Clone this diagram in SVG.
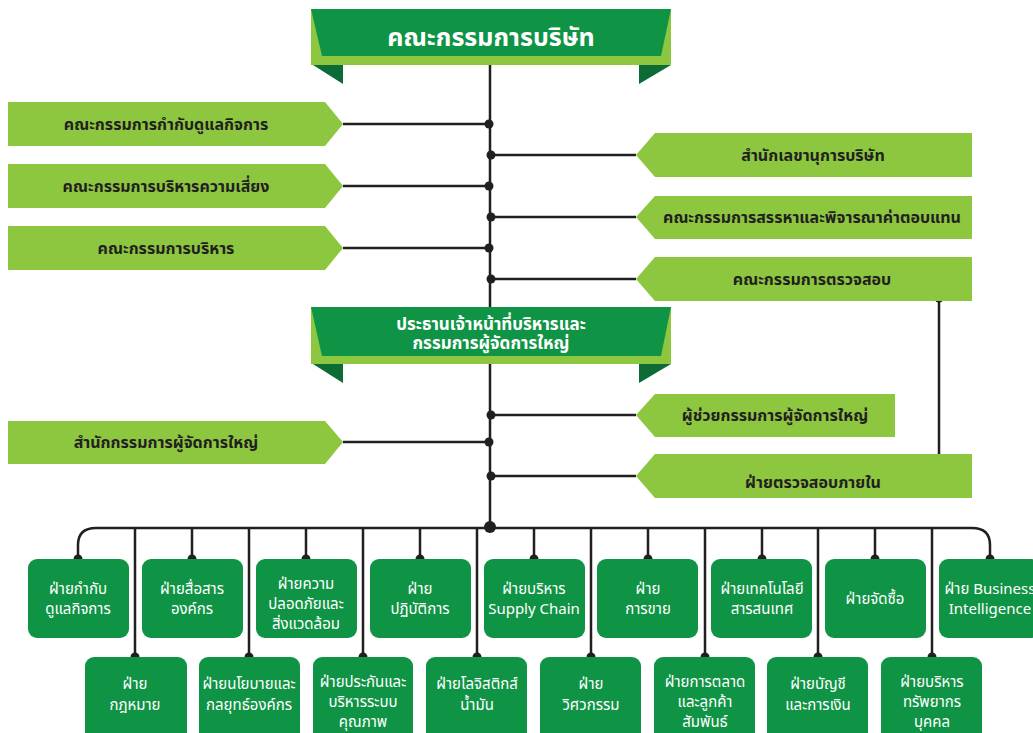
<svg xmlns="http://www.w3.org/2000/svg" width="1033" height="733" viewBox="0 0 1033 733">
<style>
.lg{fill:#8dc63f}
.dg{fill:#0f9445}
.fold{fill:#0d6b36}
.ln{stroke:#231f20;stroke-width:2.5;fill:none}
.dot{fill:#231f20}
.t{font-family:"Noto Sans Thai","Noto Sans","DejaVu Sans",sans-serif;text-anchor:middle}
.hdr{fill:#ffffff;font-weight:bold;font-size:25px}
.hdr2{fill:#ffffff;font-weight:bold;font-size:17px}
.lab{fill:#231f20;font-weight:bold;font-size:16px}
.bx{fill:#ffffff;font-size:15px}
</style>
<rect width="1033" height="733" fill="#ffffff"/>
<g id="connectors">
<line class="ln" x1="490" y1="65" x2="490" y2="527"/>
<line class="ln" x1="343" y1="124" x2="490" y2="124"/>
<line class="ln" x1="343" y1="186" x2="490" y2="186"/>
<line class="ln" x1="343" y1="248" x2="490" y2="248"/>
<line class="ln" x1="343" y1="442" x2="490" y2="442"/>
<line class="ln" x1="490" y1="155" x2="636" y2="155"/>
<line class="ln" x1="490" y1="217" x2="636" y2="217"/>
<line class="ln" x1="490" y1="279" x2="636" y2="279"/>
<line class="ln" x1="490" y1="415" x2="636" y2="415"/>
<line class="ln" x1="490" y1="476" x2="636" y2="476"/>
<line class="ln" x1="939" y1="298" x2="939" y2="459"/>
<path class="ln" d="M78 559 V545 Q78 528 96 528 H972 Q990 528 990 545 V559"/>
<path class="ln" d="M192 528V559 M306 528V559 M420 528V559 M534 528V559 M648 528V559 M762 528V559 M875 528V559"/>
<path class="ln" d="M135 528V657 M249 528V657 M363 528V657 M477 528V657 M591 528V657 M705 528V657 M818 528V657 M932 528V657"/>
<g class="dot">
<circle cx="489" cy="124" r="4.5"/><circle cx="489" cy="186" r="4.5"/><circle cx="489" cy="248" r="4.5"/><circle cx="489" cy="442" r="4.5"/>
<circle cx="491" cy="155" r="4.5"/><circle cx="491" cy="217" r="4.5"/><circle cx="491" cy="279" r="4.5"/><circle cx="491" cy="415" r="4.5"/><circle cx="491" cy="476" r="4.5"/>
<circle cx="490" cy="527" r="6"/>
<circle cx="939" cy="298" r="4.5"/><circle cx="939" cy="459" r="4.5"/>
<circle cx="78" cy="559" r="4.5"/><circle cx="192" cy="559" r="4.5"/><circle cx="306" cy="559" r="4.5"/><circle cx="420" cy="559" r="4.5"/><circle cx="534" cy="559" r="4.5"/><circle cx="648" cy="559" r="4.5"/><circle cx="762" cy="559" r="4.5"/><circle cx="875" cy="559" r="4.5"/><circle cx="990" cy="559" r="4.5"/>
<circle cx="135" cy="657" r="4.5"/><circle cx="249" cy="657" r="4.5"/><circle cx="363" cy="657" r="4.5"/><circle cx="477" cy="657" r="4.5"/><circle cx="591" cy="657" r="4.5"/><circle cx="705" cy="657" r="4.5"/><circle cx="818" cy="657" r="4.5"/><circle cx="932" cy="657" r="4.5"/>
</g>
</g>
<g id="board">
<polygon class="fold" points="313,65 343,65 343,84"/>
<polygon class="fold" points="639,65 671,65 639,84"/>
<rect class="lg" x="311" y="9" width="360" height="56"/>
<polygon class="dg" points="311,9 671,9 661,56 322,56"/>
<text class="t hdr" x="491" y="46">คณะกรรมการบริษัท</text>
</g>
<g id="ceo">
<polygon class="fold" points="313,364 343,364 343,383"/>
<polygon class="fold" points="639,364 671,364 639,383"/>
<rect class="lg" x="311" y="307" width="360" height="57"/>
<polygon class="dg" points="311,307 671,307 661,356 322,356"/>
<text class="t hdr2" x="491" y="330">ประธานเจ้าหน้าที่บริหารและ</text>
<text class="t hdr2" x="491" y="349">กรรมการผู้จัดการใหญ่</text>
</g>
<g id="l1"><polygon class="lg" points="8,102 325,102 343,124 325,146 8,146"/><text class="t lab" x="166" y="130">คณะกรรมการกำกับดูแลกิจการ</text></g>
<g id="l2"><polygon class="lg" points="8,164 325,164 343,186 325,208 8,208"/><text class="t lab" x="166" y="192">คณะกรรมการบริหารความเสี่ยง</text></g>
<g id="l3"><polygon class="lg" points="8,226 325,226 343,248 325,270 8,270"/><text class="t lab" x="166" y="254">คณะกรรมการบริหาร</text></g>
<g id="l4"><polygon class="lg" points="8,421 325,421 343,442 325,464 8,464"/><text class="t lab" x="166" y="448">สำนักกรรมการผู้จัดการใหญ่</text></g>
<g id="r1"><polygon class="lg" points="636,155 655,133 972,133 972,177 655,177"/><text class="t lab" x="813" y="161">สำนักเลขานุการบริษัท</text></g>
<g id="r2"><polygon class="lg" points="636,217 655,196 972,196 972,239 655,239"/><text class="t lab" x="812" y="223">คณะกรรมการสรรหาและพิจารณาค่าตอบแทน</text></g>
<g id="r3"><polygon class="lg" points="636,279 655,257 972,257 972,301 655,301"/><text class="t lab" x="812" y="285">คณะกรรมการตรวจสอบ</text></g>
<g id="r4"><polygon class="lg" points="636,415 655,394 895,394 895,437 655,437"/><text class="t lab" x="775" y="421">ผู้ช่วยกรรมการผู้จัดการใหญ่</text></g>
<g id="r5"><polygon class="lg" points="636,476 655,454 972,454 972,498 655,498"/><text class="t lab" x="813" y="488">ฝ่ายตรวจสอบภายใน</text></g>
<g id="d1"><rect class="dg" x="28" y="559" width="101" height="79" rx="9"/><text class="t bx" x="78" y="594">ฝ่ายกำกับ</text><text class="t bx" x="78" y="614">ดูแลกิจการ</text></g>
<g id="d2"><rect class="dg" x="142" y="559" width="101" height="79" rx="9"/><text class="t bx" x="192" y="594">ฝ่ายสื่อสาร</text><text class="t bx" x="192" y="614">องค์กร</text></g>
<g id="d3"><rect class="dg" x="256" y="559" width="101" height="79" rx="9"/><text class="t bx" x="306" y="589">ฝ่ายความ</text><text class="t bx" x="306" y="609">ปลอดภัยและ</text><text class="t bx" x="306" y="629">สิ่งแวดล้อม</text></g>
<g id="d4"><rect class="dg" x="370" y="559" width="101" height="79" rx="9"/><text class="t bx" x="420" y="594">ฝ่าย</text><text class="t bx" x="420" y="614">ปฏิบัติการ</text></g>
<g id="d5"><rect class="dg" x="484" y="559" width="101" height="79" rx="9"/><text class="t bx" x="534" y="594">ฝ่ายบริหาร</text><text class="t bx" x="534" y="614">Supply Chain</text></g>
<g id="d6"><rect class="dg" x="597" y="559" width="101" height="79" rx="9"/><text class="t bx" x="648" y="594">ฝ่าย</text><text class="t bx" x="648" y="614">การขาย</text></g>
<g id="d7"><rect class="dg" x="711" y="559" width="101" height="79" rx="9"/><text class="t bx" x="762" y="594">ฝ่ายเทคโนโลยี</text><text class="t bx" x="762" y="614">สารสนเทศ</text></g>
<g id="d8"><rect class="dg" x="825" y="559" width="101" height="79" rx="9"/><text class="t bx" x="875" y="604">ฝ่ายจัดซื้อ</text></g>
<g id="d9"><rect class="dg" x="939" y="559" width="101" height="79" rx="9"/><text class="t bx" x="990" y="594">ฝ่าย Business</text><text class="t bx" x="990" y="614">Intelligence</text></g>
<g id="e1"><rect class="dg" x="85" y="657" width="102" height="85" rx="9"/><text class="t bx" x="135" y="689">ฝ่าย</text><text class="t bx" x="135" y="710">กฎหมาย</text></g>
<g id="e2"><rect class="dg" x="199" y="657" width="101" height="85" rx="9"/><text class="t bx" x="249" y="689">ฝ่ายนโยบายและ</text><text class="t bx" x="249" y="710">กลยุทธ์องค์กร</text></g>
<g id="e3"><rect class="dg" x="313" y="657" width="100" height="85" rx="9"/><text class="t bx" x="363" y="687">ฝ่ายประกันและ</text><text class="t bx" x="363" y="707">บริหารระบบ</text><text class="t bx" x="363" y="727">คุณภาพ</text></g>
<g id="e4"><rect class="dg" x="426" y="657" width="101" height="85" rx="9"/><text class="t bx" x="477" y="689">ฝ่ายโลจิสติกส์</text><text class="t bx" x="477" y="710">น้ำมัน</text></g>
<g id="e5"><rect class="dg" x="540" y="657" width="101" height="85" rx="9"/><text class="t bx" x="591" y="689">ฝ่าย</text><text class="t bx" x="591" y="710">วิศวกรรม</text></g>
<g id="e6"><rect class="dg" x="654" y="657" width="101" height="85" rx="9"/><text class="t bx" x="705" y="687">ฝ่ายการตลาด</text><text class="t bx" x="705" y="707">และลูกค้า</text><text class="t bx" x="705" y="727">สัมพันธ์</text></g>
<g id="e7"><rect class="dg" x="767" y="657" width="101" height="85" rx="9"/><text class="t bx" x="818" y="689">ฝ่ายบัญชี</text><text class="t bx" x="818" y="710">และการเงิน</text></g>
<g id="e8"><rect class="dg" x="881" y="657" width="101" height="85" rx="9"/><text class="t bx" x="932" y="687">ฝ่ายบริหาร</text><text class="t bx" x="932" y="707">ทรัพยากร</text><text class="t bx" x="932" y="727">บุคคล</text></g>
</svg>
